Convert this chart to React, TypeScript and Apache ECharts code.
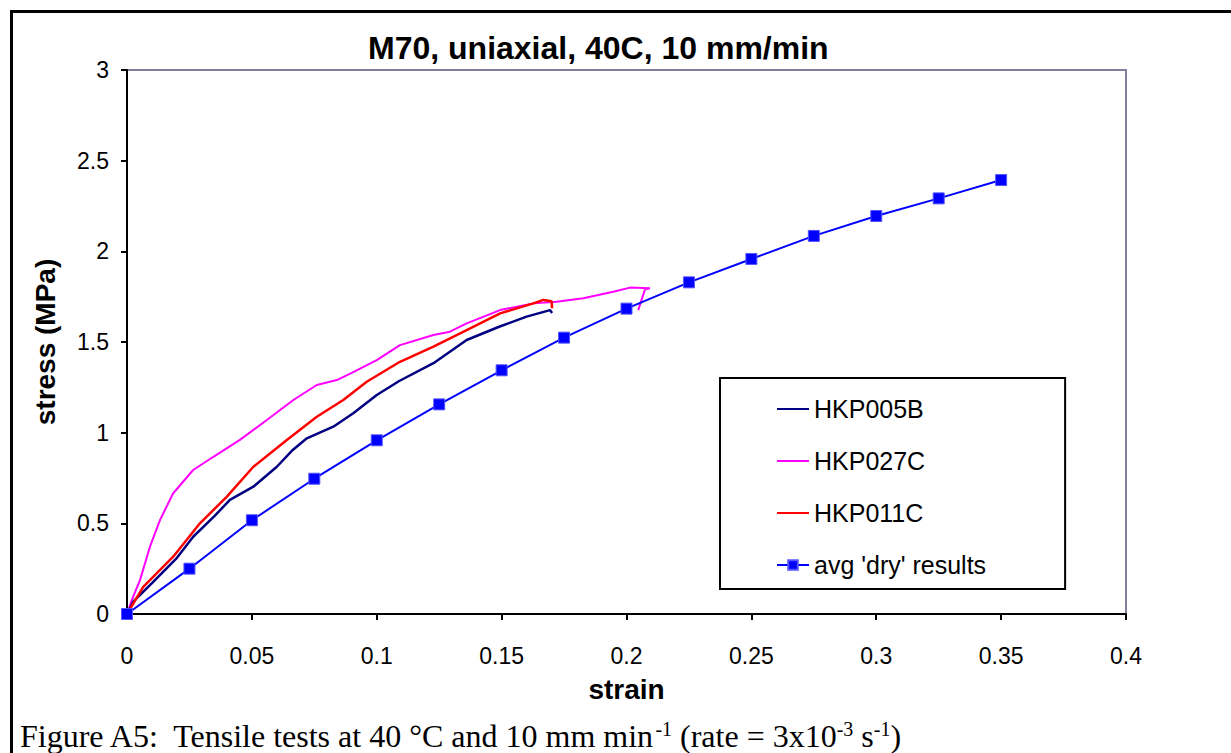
import React, { useEffect, useRef } from "react";
import * as echarts from "echarts";

const titleText = "M70, uniaxial, 40C, 10 mm/min";
const xName = "strain";
const yName = "stress (MPa)";

const hkp005bStrain = [0, 0.0025, 0.01, 0.02, 0.0265, 0.035, 0.0412, 0.0506, 0.06, 0.066, 0.072, 0.0826, 0.0906, 0.1, 0.109, 0.1227, 0.136, 0.149, 0.16, 0.1694, 0.1702];
const hkp005bStress = [0, 0.068, 0.17, 0.31, 0.426, 0.54, 0.629, 0.702, 0.812, 0.9, 0.969, 1.033, 1.107, 1.208, 1.285, 1.383, 1.511, 1.584, 1.64, 1.676, 1.66];

const hkp027cStrain = [0, 0.0019, 0.0052, 0.0092, 0.0132, 0.0185, 0.0265, 0.0346, 0.0452, 0.056, 0.0666, 0.076, 0.084, 0.09, 0.1, 0.1093, 0.1227, 0.1293, 0.136, 0.1494, 0.1627, 0.172, 0.1827, 0.1947, 0.2014, 0.2094, 0.2074, 0.2047];
const hkp027cStress = [0, 0.077, 0.187, 0.371, 0.518, 0.666, 0.794, 0.867, 0.96, 1.07, 1.18, 1.263, 1.29, 1.33, 1.4, 1.483, 1.539, 1.557, 1.603, 1.676, 1.713, 1.722, 1.741, 1.777, 1.8, 1.796, 1.79, 1.676];

const hkp011cStrain = [0, 0.0065, 0.0185, 0.0292, 0.04, 0.0506, 0.064, 0.076, 0.0866, 0.096, 0.1093, 0.1227, 0.136, 0.1494, 0.1627, 0.1667, 0.17, 0.1702];
const hkp011cStress = [0, 0.15, 0.316, 0.5, 0.647, 0.812, 0.96, 1.088, 1.18, 1.281, 1.391, 1.474, 1.566, 1.658, 1.713, 1.732, 1.725, 1.686];

const avgStrain = [0, 0.025, 0.05, 0.075, 0.1, 0.125, 0.15, 0.175, 0.2, 0.225, 0.25, 0.275, 0.3, 0.325, 0.35];
const avgStress = [0, 0.25, 0.517, 0.746, 0.958, 1.156, 1.344, 1.524, 1.684, 1.829, 1.958, 2.085, 2.195, 2.292, 2.393];

const seriesNames = ["HKP005B", "HKP027C", "HKP011C", "avg 'dry' results"];

const pairs = (xs: number[], ys: number[]) => xs.map((x, i) => [x, ys[i]]);

const SANS = "Liberation Sans, Arial, sans-serif";
const SERIF = "Liberation Serif, Times New Roman, serif";

export default function App() {
  const ref = useRef<HTMLDivElement>(null);
  useEffect(() => {
    if (!ref.current) return;
    const chart = echarts.init(ref.current, null, { renderer: "svg" });
    chart.setOption({
      animation: false,
      backgroundColor: "#ffffff",
      title: {
        text: titleText,
        left: 363,
        top: 27,
        textStyle: { fontFamily: SANS, fontSize: 32, fontWeight: "bold", color: "#000" },
      },
      grid: {
        left: 127,
        right: 105,
        top: 70,
        bottom: 139,
        show: true,
        borderColor: "#8080a0",
        borderWidth: 2,
        backgroundColor: "transparent",
      },
      legend: {
        orient: "vertical",
        left: 720,
        top: 378,
        padding: [17, 79, 10, 56],
        itemGap: 24,
        itemWidth: 32,
        itemHeight: 12,
        borderColor: "#000",
        borderWidth: 2,
        textStyle: { fontFamily: SANS, fontSize: 25, color: "#000", lineHeight: 28 },
        data: [
          { name: seriesNames[0], itemStyle: { opacity: 0 } },
          { name: seriesNames[1], itemStyle: { opacity: 0 } },
          { name: seriesNames[2], itemStyle: { opacity: 0 } },
          { name: seriesNames[3] },
        ],
      },
      xAxis: {
        type: "value",
        min: 0,
        max: 0.4,
        interval: 0.05,
        name: xName,
        nameLocation: "middle",
        nameGap: 61,
        nameTextStyle: { fontFamily: SANS, fontSize: 28, fontWeight: "bold", color: "#000" },
        axisLine: { show: true, lineStyle: { color: "#000", width: 2 } },
        axisTick: { show: true, inside: false, length: 6, lineStyle: { color: "#000", width: 2 } },
        axisLabel: { fontFamily: SANS, fontSize: 23, color: "#000", margin: 30 },
        splitLine: { show: false },
      },
      yAxis: {
        type: "value",
        min: 0,
        max: 3,
        interval: 0.5,
        name: yName,
        nameLocation: "middle",
        nameRotate: 90,
        nameGap: 68,
        nameTextStyle: { fontFamily: SANS, fontSize: 28, fontWeight: "bold", color: "#000" },
        axisLine: { show: true, lineStyle: { color: "#000", width: 2 } },
        axisTick: { show: true, inside: false, length: 6, lineStyle: { color: "#000", width: 2 } },
        axisLabel: { fontFamily: SANS, fontSize: 23, color: "#000", margin: 18 },
        splitLine: { show: false },
      },
      series: [
        {
          name: seriesNames[0],
          type: "line",
          data: pairs(hkp005bStrain, hkp005bStress),
          showSymbol: false,
          symbol: "none",
          lineStyle: { color: "#000080", width: 2.5 },
          itemStyle: { color: "#000080" },
          z: 3,
        },
        {
          name: seriesNames[1],
          type: "line",
          data: pairs(hkp027cStrain, hkp027cStress),
          showSymbol: false,
          symbol: "none",
          lineStyle: { color: "#ff00ff", width: 2 },
          itemStyle: { color: "#ff00ff" },
          z: 2,
        },
        {
          name: seriesNames[2],
          type: "line",
          data: pairs(hkp011cStrain, hkp011cStress),
          showSymbol: false,
          symbol: "none",
          lineStyle: { color: "#ff0000", width: 2.5 },
          itemStyle: { color: "#ff0000" },
          z: 4,
        },
        {
          name: seriesNames[3],
          type: "line",
          data: pairs(avgStrain, avgStress),
          symbol: "rect",
          symbolSize: 11,
          showSymbol: true,
          lineStyle: { color: "#0000ff", width: 2 },
          itemStyle: { color: "#0000ff", borderColor: "#5555ff", borderWidth: 1 },
          z: 5,
        },
      ],
      graphic: [
        {
          type: "rect",
          left: 9,
          top: 9,
          shape: { x: 0, y: 0, width: 1260, height: 780 },
          style: { fill: "none", stroke: "#000", lineWidth: 3 },
          silent: true,
        },
        {
          type: "text",
          left: 20,
          top: 719,
          style: {
            text: "Figure A5:  Tensile tests at 40 °C and 10 mm min{sup|-1} (rate = 3x10{sup|-3} s{sup|-1})",
            fontFamily: SERIF,
            fontSize: 32,
            fill: "#000",
            lineHeight: 34,
            rich: {
              sup: { fontFamily: SERIF, fontSize: 20, lineHeight: 20, verticalAlign: "top", fill: "#000" },
            },
          },
        },
      ],
    });
    return () => chart.dispose();
  }, []);
  return (
    <div
      ref={ref}
      style={{ position: "absolute", left: 0, top: 0, width: 1231, height: 753 }}
    />
  );
}
